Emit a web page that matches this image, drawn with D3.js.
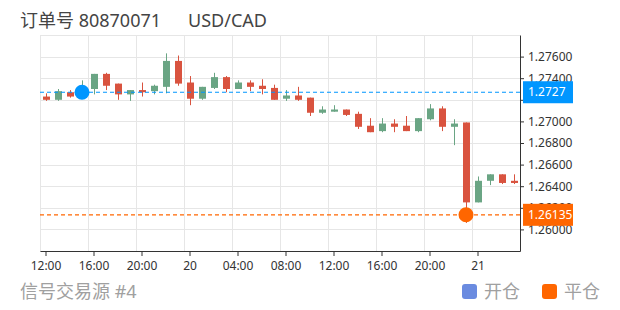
<!DOCTYPE html>
<html>
<head>
<meta charset="utf-8">
<script src="https://cdn.jsdelivr.net/npm/d3@7"></script>
<style>
  body { margin: 0; background: #fff; }
  text { font-family: "Noto Sans", "Noto Sans CJK SC", sans-serif; }
</style>
</head>
<body>
<div id="container"></div>
<script>
const times = [
  "19 12:00", "19 13:00", "19 14:00", "19 15:00", "19 16:00", "19 17:00", "19 18:00", "19 19:00",
  "19 20:00", "19 21:00", "19 22:00", "19 23:00", "20 00:00", "20 01:00", "20 02:00", "20 03:00",
  "20 04:00", "20 05:00", "20 06:00", "20 07:00", "20 08:00", "20 09:00", "20 10:00", "20 11:00",
  "20 12:00", "20 13:00", "20 14:00", "20 15:00", "20 16:00", "20 17:00", "20 18:00", "20 19:00",
  "20 20:00", "20 21:00", "20 22:00", "20 23:00", "21 00:00", "21 01:00", "21 02:00", "21 03:00"
];

const open = [
  1.2723, 1.2720, 1.2727, 1.2727, 1.2730, 1.2744, 1.2735, 1.2725, 1.2729, 1.2728,
  1.2732, 1.2756, 1.2736, 1.2721, 1.2731, 1.2741, 1.2730, 1.2736, 1.2733, 1.2731,
  1.2721, 1.2724, 1.2722, 1.2708, 1.2709, 1.2711, 1.2707, 1.2696, 1.2691, 1.2698,
  1.2696, 1.2691, 1.2702, 1.2712, 1.2695, 1.2699, 1.2625, 1.2645, 1.2651, 1.2645
];
const close = [
  1.2720, 1.2728, 1.2723, 1.2730, 1.2744, 1.2733, 1.2725, 1.2729, 1.2727, 1.2733,
  1.2756, 1.2735, 1.2721, 1.2732, 1.2741, 1.2730, 1.2736, 1.2732, 1.2730, 1.2720,
  1.2724, 1.2720, 1.2708, 1.2711, 1.2711, 1.2706, 1.2695, 1.2690, 1.2698, 1.2695,
  1.2691, 1.2703, 1.2712, 1.2695, 1.2698, 1.2625, 1.2645, 1.2651, 1.2643, 1.2643
];
const low = [
  1.2719, 1.2719, 1.2722, 1.2725, 1.2725, 1.2729, 1.2720, 1.2719, 1.2723, 1.2725,
  1.2726, 1.2733, 1.2715, 1.2720, 1.2730, 1.2727, 1.2730, 1.2728, 1.2725, 1.2720,
  1.2719, 1.2719, 1.2705, 1.2707, 1.2709, 1.2705, 1.2693, 1.2690, 1.2690, 1.2690,
  1.2691, 1.2690, 1.2701, 1.2691, 1.2678, 1.2606, 1.2625, 1.2641, 1.2642, 1.2642
];
const high = [
  1.2726, 1.2730, 1.2729, 1.2738, 1.2744, 1.2745, 1.2735, 1.2729, 1.2736, 1.2734,
  1.2763, 1.2761, 1.2742, 1.2732, 1.2745, 1.2742, 1.2738, 1.2738, 1.2739, 1.2734,
  1.2729, 1.2732, 1.2722, 1.2714, 1.2715, 1.2711, 1.2709, 1.2703, 1.2703, 1.2702,
  1.2705, 1.2703, 1.2716, 1.2714, 1.2702, 1.2699, 1.2649, 1.2651, 1.2651, 1.2651
];

const yTicks = [1.260, 1.262, 1.264, 1.266, 1.268, 1.270, 1.272, 1.274, 1.276];
const yLabelTicks = [1.260, 1.262, 1.264, 1.266, 1.268, 1.270, 1.274, 1.276];
const xTickTimes = ["19 12:00", "19 16:00", "19 20:00", "20 00:00", "20 04:00", "20 08:00",
  "20 12:00", "20 16:00", "20 20:00", "21 00:00"];

const openTime = "19 15:00", openPrice = 1.2727;
const closeTime = "20 23:00", closePrice = 1.26135;

const title = "订单号 80870071", symbol = "USD/CAD";
const source = "信号交易源 #4";
const legendItems = [{ name: "开仓", color: "#6a8be0" }, { name: "平仓", color: "#ff6600" }];

const margin = { top: 35, right: 100, bottom: 59, left: 40 };
const W = 620, H = 310;
const width = W - margin.left - margin.right;
const height = H - margin.top - margin.bottom;

const upColor = "#6aa584", downColor = "#d9533f";
const blue = "#0096ff", orange = "#ff6600";

const svg = d3.select("#container")
  .append("svg")
  .attr("width", W)
  .attr("height", H);

const g = svg.append("g")
  .attr("transform", `translate(${margin.left},${margin.top})`);

const x = d3.scaleBand()
  .domain(times)
  .range([0, width])
  .padding(0);

const y = d3.scaleLinear()
  .domain([1.258, 1.278])
  .range([height, 0]);

const cx = t => x(t) + x.bandwidth() / 2;

// grid
g.append("g")
  .selectAll("line")
  .data(y.ticks(10))
  .join("line")
  .attr("x1", 0)
  .attr("x2", width)
  .attr("y1", d => Math.round(y(d)) + 0.5)
  .attr("y2", d => Math.round(y(d)) + 0.5)
  .attr("stroke", "#e6e6e6");

g.append("g")
  .selectAll("line")
  .data(xTickTimes)
  .join("line")
  .attr("x1", d => Math.round(x(d)) + 0.5)
  .attr("x2", d => Math.round(x(d)) + 0.5)
  .attr("y1", 0)
  .attr("y2", height)
  .attr("stroke", "#e6e6e6");

// candles
const candles = g.append("g")
  .selectAll("g")
  .data(times.map((t, i) => ({ t, o: open[i], c: close[i], l: low[i], h: high[i] })))
  .join("g");

candles.append("line")
  .attr("x1", d => Math.round(cx(d.t)) + 0.5)
  .attr("x2", d => Math.round(cx(d.t)) + 0.5)
  .attr("y1", d => y(d.h))
  .attr("y2", d => y(d.l))
  .attr("stroke", d => d.c >= d.o ? upColor : downColor)
  .attr("stroke-width", 1);

const bodyW = 7;
candles.append("rect")
  .attr("x", d => Math.round(cx(d.t)) - 3)
  .attr("width", bodyW)
  .attr("y", d => y(Math.max(d.o, d.c)))
  .attr("height", d => Math.max(1, Math.abs(y(d.o) - y(d.c))))
  .attr("fill", d => d.c >= d.o ? upColor : downColor);

// axes
const xAxis = g.append("g")
  .attr("transform", `translate(0,${height})`)
  .call(d3.axisBottom(x)
    .tickValues(xTickTimes)
    .tickSize(5)
    .tickSizeOuter(0)
    .tickFormat(d => {
      const [day, hm] = d.split(" ");
      return hm === "00:00" ? day : hm;
    }));
xAxis.select(".domain").attr("stroke", "#333");
xAxis.selectAll(".tick line").attr("stroke", "#333");
xAxis.selectAll("text")
  .attr("fill", "#333")
  .attr("font-size", "12px")
  .attr("dy", "0.95em");

const yAxis = g.append("g")
  .attr("transform", `translate(${width},0)`)
  .call(d3.axisRight(y)
    .tickValues(yTicks)
    .tickSize(4)
    .tickSizeOuter(0)
    .tickFormat(d => yLabelTicks.some(v => Math.abs(v - d) < 1e-9) ? d3.format(".5f")(d) : ""));
yAxis.select(".domain").attr("stroke", "#333");
yAxis.selectAll(".tick line").attr("stroke", "#333");
yAxis.selectAll("text")
  .attr("fill", "#333")
  .attr("font-size", "12px")
  .attr("x", 8);

// open / close price lines
const marks = [
  { t: openTime, p: openPrice, color: blue, label: "1.2727" },
  { t: closeTime, p: closePrice, color: orange, label: "1.26135" }
];

marks.forEach(m => {
  g.append("line")
    .attr("x1", 0)
    .attr("x2", width)
    .attr("y1", y(m.p))
    .attr("y2", y(m.p))
    .attr("stroke", m.color)
    .attr("stroke-width", 1.2)
    .attr("stroke-dasharray", "4,3");

  g.append("circle")
    .attr("cx", cx(m.t))
    .attr("cy", y(m.p))
    .attr("r", 7.5)
    .attr("fill", m.color);

  g.append("rect")
    .attr("x", width + 3)
    .attr("y", y(m.p) - 11)
    .attr("width", 50)
    .attr("height", 22)
    .attr("fill", m.color);

  g.append("text")
    .attr("x", width + 8)
    .attr("y", y(m.p))
    .attr("dy", "0.35em")
    .attr("fill", "#fff")
    .attr("font-size", "12px")
    .text(m.label);
});

// title
svg.append("text")
  .attr("x", 20)
  .attr("y", 27)
  .attr("fill", "#444")
  .attr("font-size", "18px")
  .text(title);

svg.append("text")
  .attr("x", 188)
  .attr("y", 27)
  .attr("fill", "#444")
  .attr("font-size", "18px")
  .text(symbol);

// footer
svg.append("text")
  .attr("x", 20)
  .attr("y", 298)
  .attr("fill", "#a0a0a0")
  .attr("font-size", "18px")
  .text(source);

const legend = svg.append("g")
  .attr("transform", "translate(462,284)");

legendItems.forEach((item, i) => {
  const li = legend.append("g")
    .attr("transform", `translate(${i * 80},0)`);
  li.append("rect")
    .attr("width", 15)
    .attr("height", 15)
    .attr("rx", 3)
    .attr("fill", item.color);
  li.append("text")
    .attr("x", 22)
    .attr("y", 14)
    .attr("fill", "#a0a0a0")
    .attr("font-size", "18px")
    .text(item.name);
});
</script>
</body>
</html>
